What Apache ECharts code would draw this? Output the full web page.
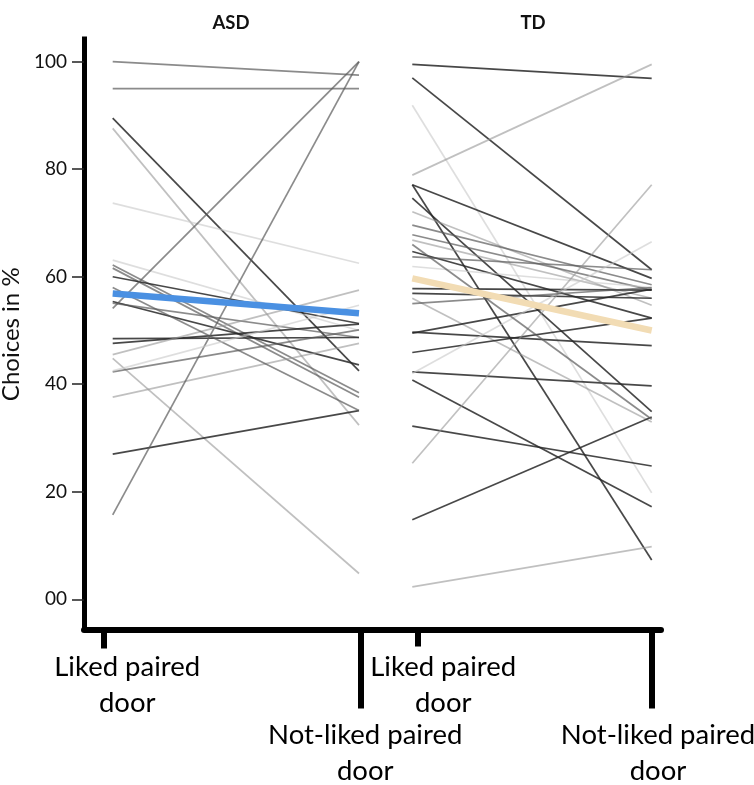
<!DOCTYPE html>
<html><head><meta charset="utf-8">
<script src="https://cdn.jsdelivr.net/npm/echarts@6/dist/echarts.min.js"></script>
<style>html,body{margin:0;padding:0;background:#fff}#c{width:754px;height:785px}</style>
</head><body><div id="c"></div>
<script>
// ---- data ----
const conditions = ['Liked paired door', 'Not-liked paired door'];
const groups = ['ASD', 'TD'];
const yTicks = [0, 20, 40, 60, 80, 100];

const asdLiked    = [100, 95, 89.5, 87.6, 73.7, 63.1, 62.2, 61.6, 60.0, 55.4, 54.1, 55.1, 48.5, 47.6, 44.8, 42.3, 37.6, 27.0, 15.7, 45.5, 58.0, 42.5];
const asdNotLiked = [97.5, 95, 42.5, 32.4, 62.5, 50.0, 38.4, 37.6, 51.3, 43.6, 100, 48.7, 48.7, 51.2, 4.8, 50.1, 47.6, 35.1, 100, 57.5, 35.1, 54.7];
const asdMean     = [56.9, 53.2];

const tdLiked     = [99.5, 97.0, 91.9, 78.9, 77.1, 77.1, 74.6, 72.1, 69.6, 67.8, 66.8, 64.7, 63.7, 61.9, 57.8, 56.9, 56.0, 49.5, 49.7, 45.9, 42.3, 42.0, 40.8, 32.2, 25.3, 14.8, 2.3, 66.0, 55.0];
const tdNotLiked  = [96.9, 61.3, 19.8, 99.5, 59.7, 7.3, 34.9, 54.7, 58.5, 57.5, 56.0, 52.3, 61.3, 58.0, 57.5, 56.0, 33.0, 57.7, 47.2, 52.3, 39.7, 66.5, 17.2, 24.8, 77.1, 33.9, 9.8, 33.5, 58.0];
const tdMean      = [59.7, 50.0];

// ---- styles (per-line gray shade) ----
const asdShade = ['m','m','d','l','v','v','m','m','d','d','m','m','d','d','l','m','l','d','m','l','m','v'];
const tdShade  = ['d','d','v','l','d','d','d','l','m','m','l','d','m','v','d','d','l','d','d','d','d','v','d','d','l','d','l','m','m'];
const shadeColor = { d: 'rgba(40,40,40,0.85)', m: 'rgba(90,90,90,0.7)', l: 'rgba(150,150,150,0.6)', v: 'rgba(200,200,200,0.6)' };

const FONT = 'Lato';
const TOP = 39.1, BOTTOM = 155.6, YMIN = -5.6, YMAX = 104.2;

const chart = echarts.init(document.getElementById('c'), null, { renderer: 'canvas' });

function subjectSeries(liked, notLiked, shade, idx) {
  return liked.map((v, i) => ({
    type: 'line', xAxisIndex: idx, yAxisIndex: idx, silent: true, symbol: 'none',
    data: [v, notLiked[i]],
    lineStyle: { color: shadeColor[shade[i]], width: 1.7 }, z: 2
  }));
}
function meanSeries(vals, idx, color) {
  return { type: 'line', xAxisIndex: idx, yAxisIndex: idx, silent: true, symbol: 'none',
    data: vals, lineStyle: { color: color, width: 6.5 }, z: 5 };
}
const lbl = (s) => s.replace(' door', '\ndoor');
function tickAxis(grid, which, len, margin, padLeft) {
  return {
    type: 'category', gridIndex: grid, position: 'bottom', data: conditions, boundaryGap: false,
    axisLine: { show: false, onZero: false },
    axisTick: { show: true, length: len, interval: (i) => i === which, lineStyle: { color: '#000', width: 6 } },
    axisLabel: { show: true, interval: (i) => i === which, margin: margin, formatter: lbl,
      fontFamily: FONT, fontSize: 27.5, lineHeight: 36, color: '#000', padding: [0, 0, 0, padLeft], align: 'center' },
    splitLine: { show: false }
  };
}
const hiddenY = (g) => ({ type: 'value', gridIndex: g, min: YMIN, max: YMAX, show: false });
const hiddenX = (g) => ({ type: 'category', gridIndex: g, position: 'bottom', data: conditions, boundaryGap: false, show: false, axisLine: { onZero: false } });
const gridBox = (left, right) => ({ left, right, top: TOP, bottom: BOTTOM, containLabel: false, outerBoundsMode: 'none' });

const option = {
  animation: false,
  backgroundColor: '#fff',
  title: [
    { text: groups[0], left: 226, top: 9, textAlign: 'center', textStyle: { fontFamily: FONT, fontSize: 18.5, fontWeight: 'bold', color: '#111' } },
    { text: groups[1], left: 528, top: 9, textAlign: 'center', textStyle: { fontFamily: FONT, fontSize: 18.5, fontWeight: 'bold', color: '#111' } }
  ],
  grid: [
    gridBox(84, 93),        // frame
    gridBox(112.7, 395),    // ASD data
    gridBox(412.3, 102.3),  // TD data
    gridBox(103.7, 393.3),  // ASD ticks
    gridBox(417.7, 102)     // TD ticks
  ],
  xAxis: [
    { type: 'value', gridIndex: 0, position: 'bottom', min: 0, max: 1,
      axisLine: { show: true, onZero: false, lineStyle: { color: '#000', width: 6 } },
      axisTick: { show: false }, axisLabel: { show: false }, splitLine: { show: false } },
    hiddenX(1), hiddenX(2),
    tickAxis(3, 0, 19, 20, 47), tickAxis(3, 1, 79, 88, 9),
    tickAxis(4, 0, 17, 20, 51), tickAxis(4, 1, 79, 88, 12)
  ],
  yAxis: [
    { type: 'value', gridIndex: 0, position: 'left', min: YMIN, max: YMAX,
      axisLine: { show: true, onZero: false, lineStyle: { color: '#000', width: 5, cap: 'square' } },
      axisTick: { show: true, customValues: yTicks, length: 12, lineStyle: { color: '#222', width: 1.5 } },
      axisLabel: { show: true, customValues: yTicks, margin: 17, fontFamily: FONT, fontSize: 19, color: '#111',
        formatter: (v) => (v === 0 ? '00' : String(v)) },
      splitLine: { show: false },
      name: 'Choices in %', nameLocation: 'middle', nameGap: 57,
      nameTextStyle: { fontFamily: FONT, fontSize: 24, color: '#111' } },
    hiddenY(1), hiddenY(2), hiddenY(3), hiddenY(4)
  ],
  series: [
    ...subjectSeries(asdLiked, asdNotLiked, asdShade, 1),
    meanSeries(asdMean, 1, '#4a90e2'),
    ...subjectSeries(tdLiked, tdNotLiked, tdShade, 2),
    meanSeries(tdMean, 2, '#f2dcb4')
  ]
};
chart.setOption(option);
</script>
</body></html>
